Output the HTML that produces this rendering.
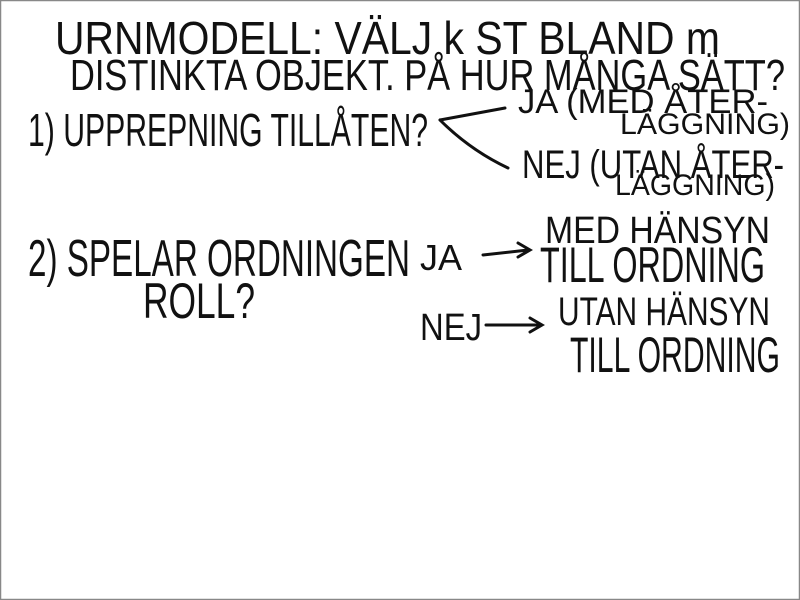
<!DOCTYPE html>
<html><head><meta charset="utf-8"><style>
html,body{margin:0;padding:0;background:#fff}
svg{display:block}
text{font-family:"Liberation Sans",sans-serif;fill:#111;}
</style></head><body>
<svg width="800" height="600" viewBox="0 0 800 600" xmlns="http://www.w3.org/2000/svg">
<rect x="0.5" y="0.5" width="799" height="599" fill="#fff" stroke="#888" stroke-width="1.5"/>
<g>
<text x="55" y="54" font-size="46" textLength="665" lengthAdjust="spacingAndGlyphs">URNMODELL: VÄLJ  k ST  BLAND  m</text>
<text x="70" y="90" font-size="44" textLength="715" lengthAdjust="spacingAndGlyphs">DISTINKTA OBJEKT.  PÅ HUR MÅNGA SÄTT?</text>
<text x="28" y="146" font-size="46" textLength="400" lengthAdjust="spacingAndGlyphs">1) UPPREPNING TILLÅTEN?</text>
<text x="518" y="113" font-size="34" textLength="250" lengthAdjust="spacingAndGlyphs">JA  (MED ÅTER-</text>
<text x="620" y="134" font-size="30" textLength="170" lengthAdjust="spacingAndGlyphs">LÄGGNING)</text>
<text x="522" y="178" font-size="40" textLength="262" lengthAdjust="spacingAndGlyphs">NEJ (UTAN ÅTER-</text>
<text x="615" y="195" font-size="30" textLength="160" lengthAdjust="spacingAndGlyphs">LÄGGNING)</text>
<text x="28" y="276" font-size="52" textLength="382" lengthAdjust="spacingAndGlyphs">2) SPELAR ORDNINGEN</text>
<text x="143" y="318" font-size="50" textLength="112" lengthAdjust="spacingAndGlyphs">ROLL?</text>
<text x="420" y="270" font-size="36" textLength="42" lengthAdjust="spacingAndGlyphs">JA</text>
<text x="545" y="243" font-size="38" textLength="225" lengthAdjust="spacingAndGlyphs">MED HÄNSYN</text>
<text x="540" y="282" font-size="50" textLength="225" lengthAdjust="spacingAndGlyphs">TILL ORDNING</text>
<text x="420" y="340" font-size="38" textLength="62" lengthAdjust="spacingAndGlyphs">NEJ</text>
<text x="558" y="325" font-size="40" textLength="212" lengthAdjust="spacingAndGlyphs">UTAN HÄNSYN</text>
<text x="570" y="372" font-size="50" textLength="210" lengthAdjust="spacingAndGlyphs">TILL ORDNING</text>
</g>
<g stroke="#111" stroke-width="3" fill="none" stroke-linecap="round">
<path d="M440 120 L505 108"/>
<path d="M440 120 Q470 150 508 168"/>
<path d="M483 255 L528 250 M518 243 L530 250 L518 257"/>
<path d="M486 325 L540 325 M530 318 L542 325 L530 332"/>
</g>
</svg>
</body></html>
